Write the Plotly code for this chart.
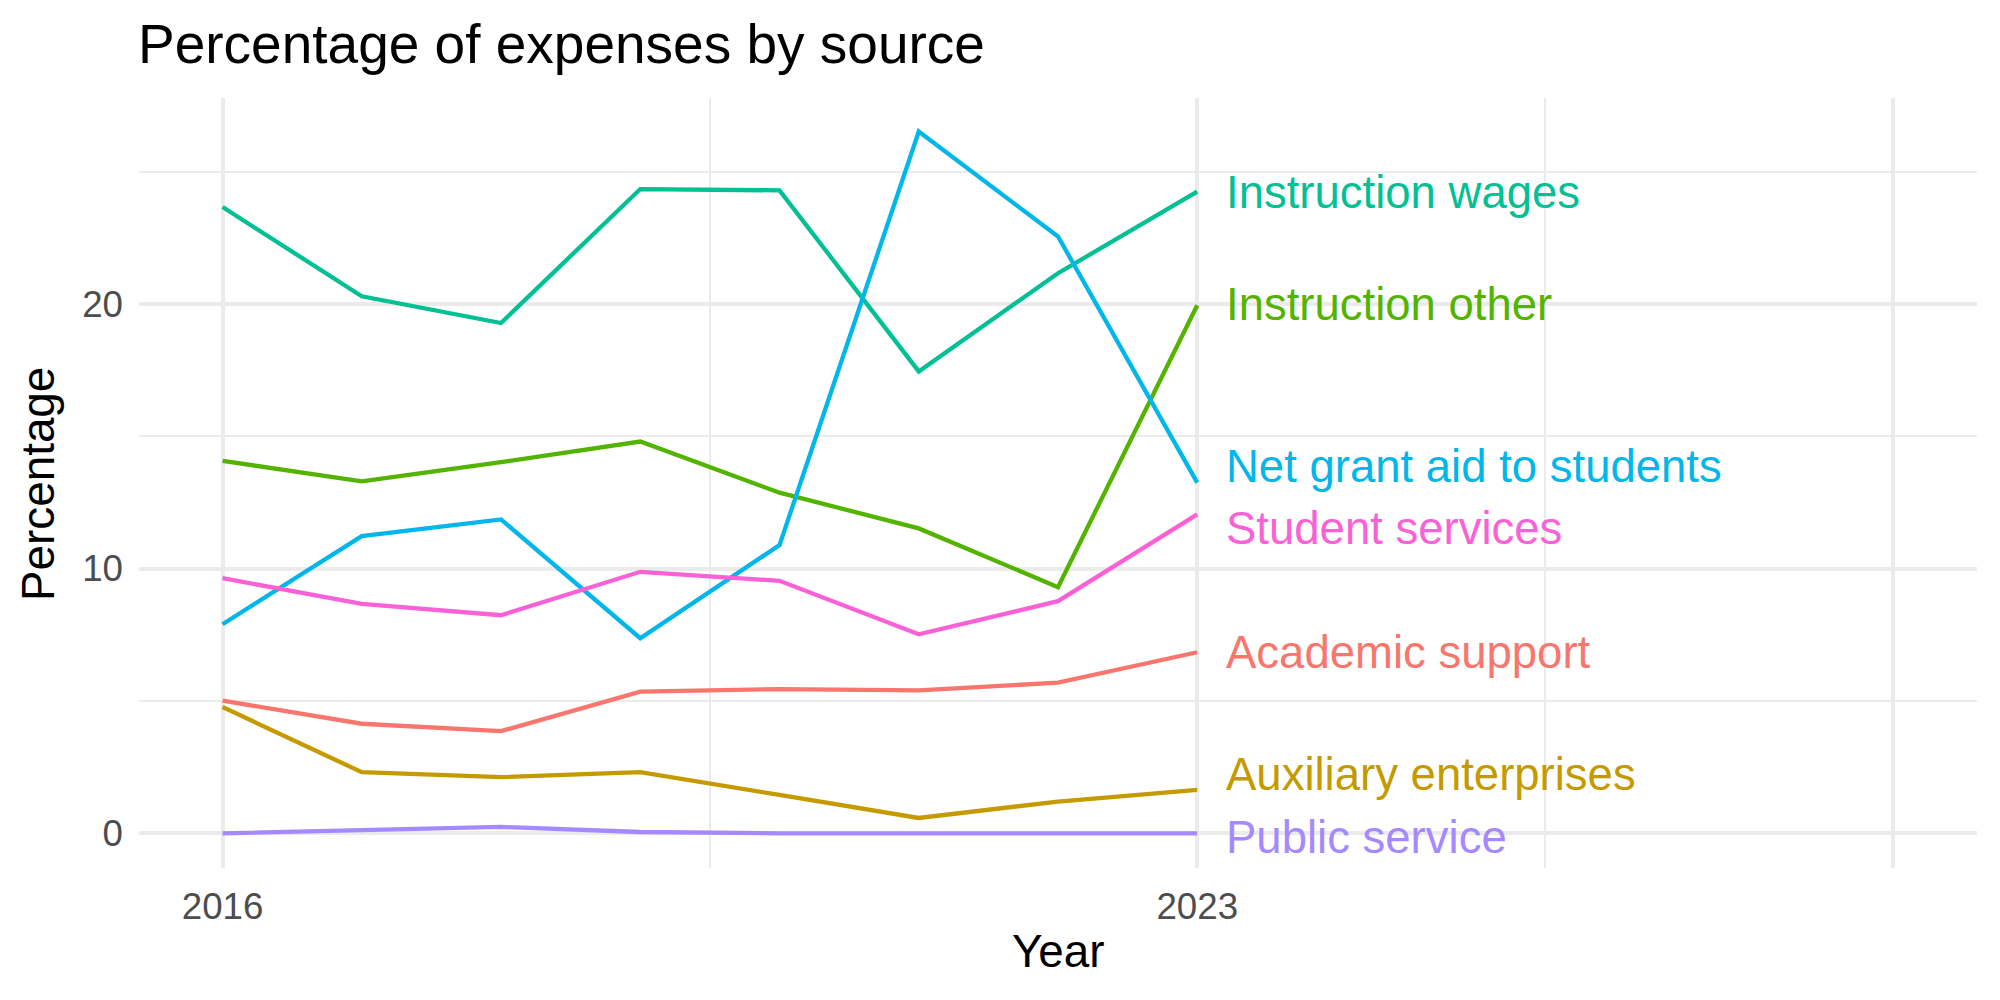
import plotly.graph_objects as go

# ---- data ----
years = [2016, 2017, 2018, 2019, 2020, 2021, 2022, 2023]
series_names = [
    "Academic support",
    "Auxiliary enterprises",
    "Instruction other",
    "Instruction wages",
    "Net grant aid to students",
    "Public service",
    "Student services",
]
academic_support = [5.01, 4.14, 3.86, 5.35, 5.45, 5.40, 5.69, 6.84]
auxiliary_enterprises = [4.77, 2.31, 2.12, 2.31, 1.45, 0.58, 1.20, 1.64]
instruction_other = [14.07, 13.30, 14.02, 14.80, 12.87, 11.52, 9.30, 19.95]
instruction_wages = [23.66, 20.29, 19.28, 24.34, 24.29, 17.45, 21.16, 24.24]
net_grant_aid = [7.90, 11.23, 11.86, 7.37, 10.89, 26.51, 22.55, 13.25]
public_service = [0.00, 0.10, 0.24, 0.05, 0.00, 0.00, 0.00, 0.00]
student_services = [9.64, 8.67, 8.24, 9.88, 9.54, 7.52, 8.77, 12.05]

series_values = [
    academic_support,
    auxiliary_enterprises,
    instruction_other,
    instruction_wages,
    net_grant_aid,
    public_service,
    student_services,
]
# repelled label positions (y, in data units) at the right end
label_y = [6.83, 2.23, 19.96, 24.21, 13.87, -0.14, 11.51]
label_x = 2023.2

x_tick_vals = [2016, 2023, 2028]
x_tick_text = ["2016", "2023", ""]
x_minor_vals = [2019.5, 2025.5]
y_tick_vals = [0, 10, 20]
y_tick_text = ["0", "10", "20"]
y_minor_vals = [5, 15, 25]

colors = ["#F8766D", "#C49A00", "#53B400", "#00C094", "#00B6EB", "#A58AFF", "#FB61D7"]

FONT = "Liberation Sans, Arial, Helvetica, sans-serif"
GRID = "#EBEBEB"

fig = go.Figure()
for name, vals, col in zip(series_names, series_values, colors):
    fig.add_trace(go.Scatter(
        x=years, y=vals, mode="lines", name=name,
        line=dict(color=col, width=4.3), showlegend=False,
    ))

annotations = []
for name, ly, col in zip(series_names, label_y, colors):
    annotations.append(dict(
        x=label_x, y=ly, xref="x", yref="y", text=name, showarrow=False,
        xanchor="left", yanchor="middle", xshift=-1,
        font=dict(family=FONT, size=45.5, color=col),
    ))

# title
annotations.append(dict(
    x=-0.0015, y=1.0700, xref="paper", yref="paper", text="Percentage of expenses by source",
    showarrow=False, xanchor="left", yanchor="middle",
    font=dict(family=FONT, size=55, color="#000000"),
))
# axis titles
annotations.append(dict(
    x=0.5, y=-0.1082, xref="paper", yref="paper", text="Year",
    showarrow=False, xanchor="center", yanchor="middle",
    font=dict(family=FONT, size=45.8, color="#000000"),
))
annotations.append(dict(
    x=-0.0544, y=0.4988, xref="paper", yref="paper", text="Percentage",
    showarrow=False, xanchor="center", yanchor="middle", textangle=-90,
    font=dict(family=FONT, size=45.8, color="#000000"),
))

fig.update_layout(
    width=2000, height=1000, autosize=False,
    margin=dict(l=139, r=23, t=97.5, b=132.3, pad=0),
    paper_bgcolor="white", plot_bgcolor="white",
    font=dict(family=FONT),
    annotations=annotations,
    xaxis=dict(
        range=[2015.4, 2028.6], tickmode="array", tickvals=x_tick_vals, ticktext=x_tick_text,
        showgrid=True, gridcolor=GRID, gridwidth=3.6, zeroline=False, showline=False,
        ticks="", ticklabelstandoff=13, tickfont=dict(family=FONT, size=36.7, color="#4D4D4D"),
        minor=dict(tickmode="array", tickvals=x_minor_vals, showgrid=True, gridcolor=GRID, gridwidth=2.0),
        automargin=False, fixedrange=True,
    ),
    yaxis=dict(
        range=[-1.31, 27.78], tickmode="array", tickvals=y_tick_vals, ticktext=y_tick_text,
        showgrid=True, gridcolor=GRID, gridwidth=3.6, zeroline=False, showline=False,
        ticks="", ticklabelstandoff=15, tickfont=dict(family=FONT, size=36.7, color="#4D4D4D"),
        minor=dict(tickmode="array", tickvals=y_minor_vals, showgrid=True, gridcolor=GRID, gridwidth=2.0),
        automargin=False, fixedrange=True,
    ),
)

fig.write_html("out.html", config={"displayModeBar": False})
